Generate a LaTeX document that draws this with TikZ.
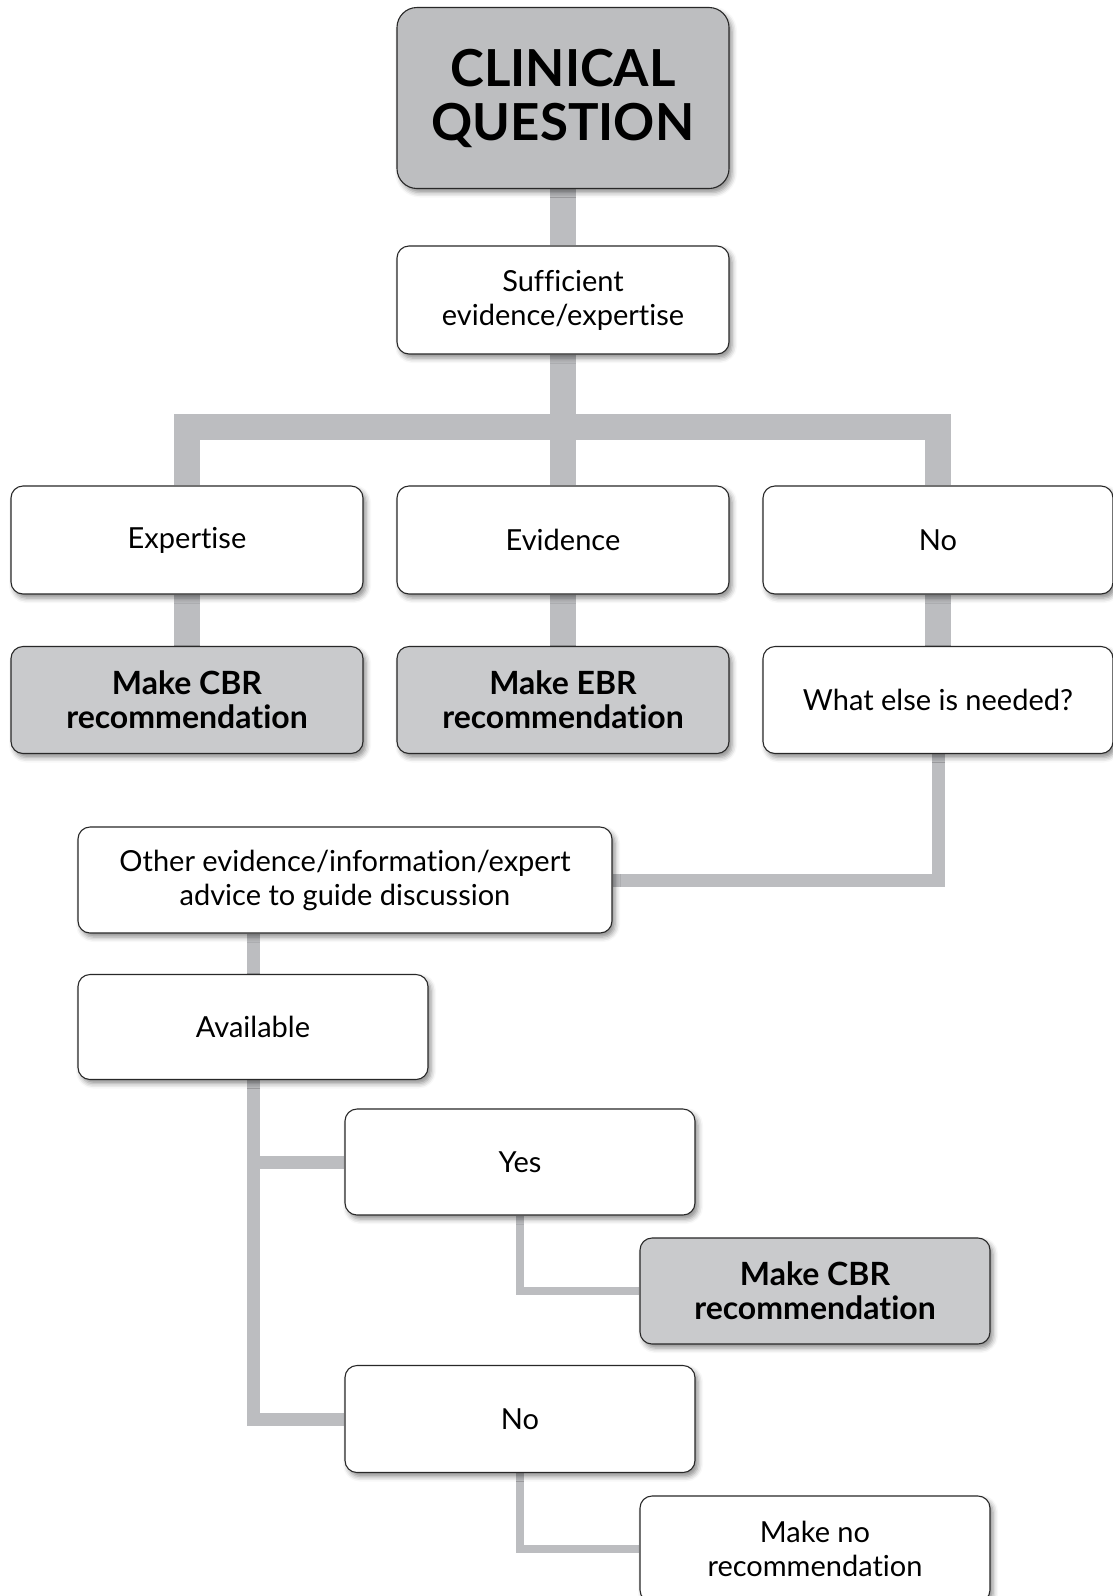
\documentclass[tikz,border=0pt]{standalone}
\usepackage{fontspec}
\setmainfont{Lato}[Ligatures=NoCommon]
\usetikzlibrary{backgrounds,shadows.blur}

\definecolor{qgray}{RGB}{189,190,192}
\definecolor{resgray}{RGB}{201,202,204}
\definecolor{linkgray}{RGB}{188,189,192}
\definecolor{edgegray}{RGB}{40,40,40}

\tikzset{every picture/.style={line width=0.75pt}}
\tikzset{
  box/.style={draw=edgegray, line width=1.1pt, rounded corners=12pt, fill=white,
    align=center, inner sep=0pt, minimum width=350pt, minimum height=106pt,
    font=\fontsize{29}{34}\selectfont,
    blur shadow={shadow xshift=3pt, shadow yshift=-4pt, shadow blur radius=5pt, shadow opacity=45}},
  resbox/.style={box, fill=resgray, font=\fontsize{32}{34}\selectfont\bfseries},
  qbox/.style={box, fill=qgray, rounded corners=20pt, font=\fontsize{51}{54}\selectfont\bfseries},
  link/.style={draw=linkgray, line width=26pt},
  thinlink/.style={draw=linkgray, line width=13pt},
  slimlink/.style={draw=linkgray, line width=8pt}
}

\begin{document}
\begin{tikzpicture}[x=1pt,y=1pt,yscale=-1,xscale=1]
	\useasboundingbox (0,0) rectangle (1112,1596);

	%Shape: Top question
	\node [qbox, minimum width=332pt, minimum height=181pt] (cq) at (563,98) {CLINICAL\\QUESTION};
	\node [box, minimum width=332pt, minimum height=108pt] (suff) at (563,300) {Sufficient\\evidence/expertise};

	%Shape: First row
	\node [box, minimum width=352pt, minimum height=108pt] (exp) at (187,540) {Expertise};
	\node [box, minimum width=332pt, minimum height=108pt] (evid) at (563,540) {Evidence};
	\node [box, minimum height=108pt] (noA) at (938,540) {No};

	%Shape: Second row
	\node [resbox, minimum width=352pt, minimum height=107pt] (cbrA) at (187,700) {Make CBR\\recommendation};
	\node [resbox, minimum width=332pt, minimum height=107pt] (ebr) at (563,700) {Make EBR\\recommendation};
	\node [box, minimum height=107pt] (what) at (938,700) {What else is needed?};

	%Shape: Lower part
	\node [box, minimum width=534pt] (other) at (345,880) {Other evidence/information/expert\\advice to guide discussion};
	\node [box, minimum height=105pt] (avail) at (253,1027) {Available};
	\node [box] (yes) at (520,1162) {Yes};
	\node [resbox] (cbrB) at (815,1291) {Make CBR\\recommendation};
	\node [box, minimum height=107pt] (noB) at (520,1419) {No};
	\node [box] (none) at (815,1549) {Make no\\recommendation};

	\coordinate (bar) at (563,427);

	\begin{pgfonlayer}{background}
	%Straight Lines
	\draw [link] (cq.south) -- (suff.north);
	\draw [link] (suff.south) -- (evid.north);
	\draw [link] (exp.north) |- (bar) -| (noA.north);
	\draw [link] (exp.south) -- (cbrA.north);
	\draw [link] (evid.south) -- (ebr.north);
	\draw [link] (noA.south) -- (what.north);
	\draw [thinlink] (what.south) |- (other.east);
	\draw [thinlink] (avail.north) -- (avail.north |- other.south);
	\draw [thinlink] (avail.south) |- (yes.west);
	\draw [thinlink] (avail.south) |- (noB.west);
	\draw [slimlink] (yes.south) |- (cbrB.west);
	\draw [slimlink] (noB.south) |- (none.west);
	\end{pgfonlayer}

\end{tikzpicture}
\end{document}
